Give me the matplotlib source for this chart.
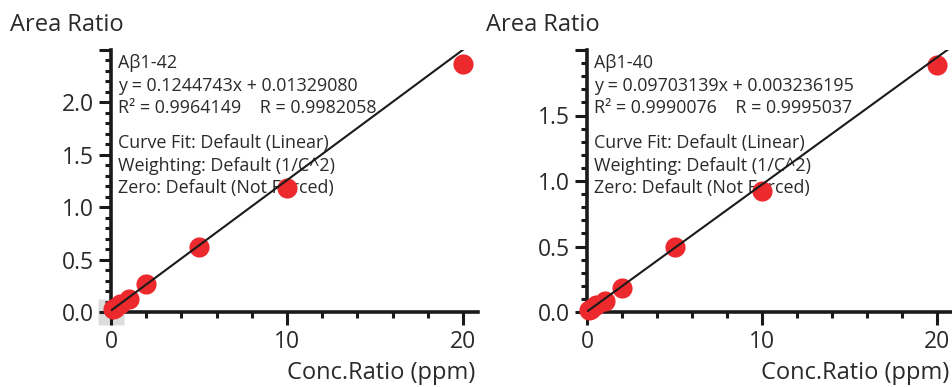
import matplotlib.pyplot as plt
import numpy as np
from matplotlib.ticker import MultipleLocator

plt.rcParams['font.family'] = ['Open Sans', 'DejaVu Sans']
plt.rcParams['font.size'] = 16

# calibration data
conc = [0.1, 0.2, 0.5, 1, 2, 5, 10, 20]
ratio_42 = [0.025, 0.035, 0.075, 0.12, 0.265, 0.62, 1.18, 2.37]
ratio_40 = [0.012, 0.022, 0.05, 0.085, 0.18, 0.495, 0.925, 1.885]

fit_42 = (0.1244743, 0.01329080)
fit_40 = (0.09703139, 0.003236195)

info_42 = ['A\u03b21-42', 'y = 0.1244743x + 0.01329080', 'R\u00b2 = 0.9964149    R = 0.9982058',
           'Curve Fit: Default (Linear)', 'Weighting: Default (1/C^2)', 'Zero: Default (Not Forced)']
info_40 = ['A\u03b21-40', 'y = 0.09703139x + 0.003236195', 'R\u00b2 = 0.9990076    R = 0.9995037',
           'Curve Fit: Default (Linear)', 'Weighting: Default (1/C^2)', 'Zero: Default (Not Forced)']

W, H = 953, 387
fig = plt.figure(figsize=(W / 100, H / 100), dpi=100)

red = '#EC2A2E'
ink = '#2a2a2a'


def panel(left, right, ymax, yticks, x, y, fit, info, excluded):
    ax = fig.add_axes([left / W, 1 - 312 / H, (right - left) / W, (312 - 50) / H])
    ax.set_xlim(0, 20.85)
    ax.set_ylim(0, ymax)
    if excluded:
        ax.plot([0], [0], marker='s', ms=19, color='#DCDCDC', mec='none', clip_on=False, zorder=1)
    xx = np.array([0.05, 21])
    ax.plot(xx, fit[0] * xx + fit[1], color='#1a1a1a', lw=1.5, zorder=6)
    ax.plot(x, y, 'o', ms=14.5, color=red, mec='none', clip_on=False, zorder=5)

    for s in ['top', 'right']:
        ax.spines[s].set_visible(False)
    for s in ['left', 'bottom']:
        ax.spines[s].set_linewidth(2.6)
        ax.spines[s].set_color('#1a1a1a')
    ax.set_xticks([0, 10, 20])
    ax.xaxis.set_minor_locator(MultipleLocator(2))
    ax.set_yticks(yticks)
    ax.set_yticklabels(['' if v == ymax else f'{v:.1f}' for v in yticks])
    ax.yaxis.set_minor_locator(MultipleLocator(0.1))
    ax.tick_params(which='major', length=9, width=2.2, color='#1a1a1a', labelsize=16.5,
                   labelcolor=ink, pad=3)
    ax.tick_params(which='minor', length=4.5, width=2.2, color='#1a1a1a')
    ax.tick_params(axis='x', which='major', pad=4)

    fig.text((left - 101) / W, 1 - 25 / H, 'Area Ratio', ha='left', va='center', fontsize=17,
             color=ink)
    fig.text((right - 3) / W, 1 - 373 / H, 'Conc.Ratio (ppm)', ha='right', va='center', fontsize=17,
             color=ink)
    # fit summary sits under the markers and the fit line
    for line, yc in zip(info, [63, 86, 108, 143, 166, 188]):
        ax.text((left + 7) / W, 1 - yc / H, line, transform=fig.transFigure, ha='left', va='center',
                fontsize=12.9, color=ink, zorder=1)
    return ax


panel(111, 478, 2.5, [0, 0.5, 1.0, 1.5, 2.0, 2.5], conc, ratio_42, fit_42, info_42, True)
panel(587, 952, 2.0, [0, 0.5, 1.0, 1.5, 2.0], conc, ratio_40, fit_40, info_40, False)

fig.savefig('out.png', dpi=100)
